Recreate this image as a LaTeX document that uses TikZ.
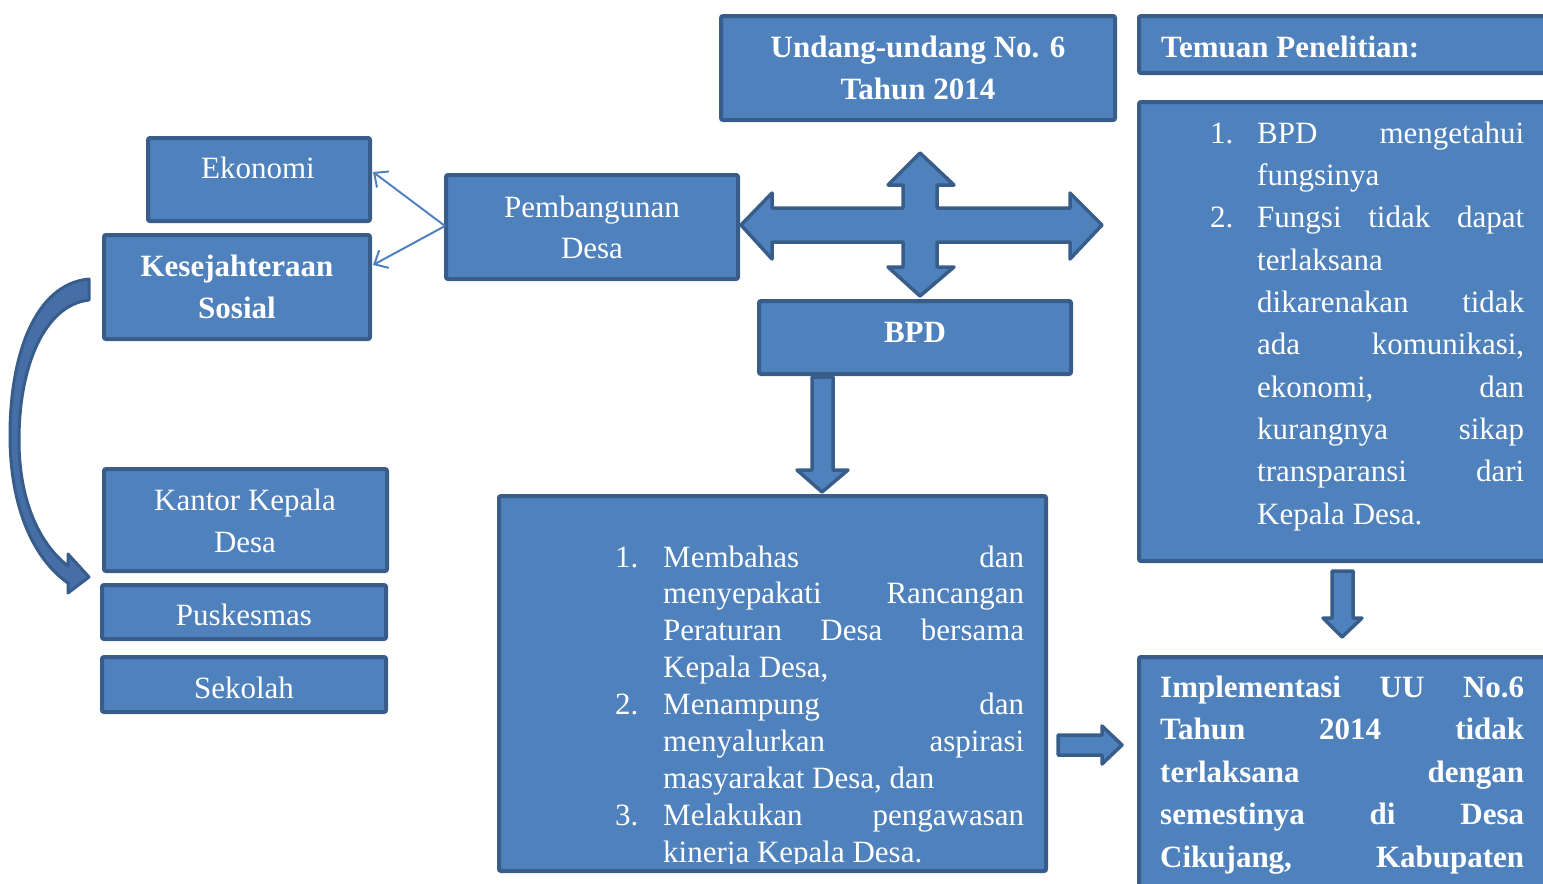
\documentclass[tikz,border=0pt]{standalone}
\usepackage{fontspec}
\setmainfont{Liberation Serif}
\usetikzlibrary{arrows.meta}
\definecolor{bfill}{HTML}{4F81BD}
\definecolor{bdraw}{HTML}{385D8A}
\definecolor{cfill}{HTML}{456FA6}
\newcommand\jline[2]{\hbox to #1bp{#2}}
\begin{document}
\begin{tikzpicture}[x=1bp,y=-1bp,
 box/.style={draw=bdraw, fill=bfill, line width=4bp, rounded corners=2bp, inner sep=0pt, outer sep=0pt, anchor=north west},
 txt/.style={text=white, inner sep=0pt, font=\fontsize{31bp}{37bp}\selectfont},
 btxt/.style={text=white, inner sep=0pt, font=\fontsize{31bp}{37bp}\selectfont\bfseries},
 blockarrow/.style={draw=bdraw, fill=bfill, line width=3.5bp, line join=round},
 thinarrow/.style={draw=bfill, line width=2bp, -{Straight Barb[length=11bp,width=20bp,line width=2bp]}}]
\useasboundingbox (0,0) rectangle (1543,883);
\clip (0,0) rectangle (1543,883);

% boxes
\node[box, minimum width=222bp, minimum height=83bp] (eko) at (148,138) {};
\node[box, minimum width=266bp, minimum height=104bp] (kes) at (104,235) {};
\node[box, minimum width=292bp, minimum height=104bp] (pem) at (446,175) {};
\node[box, minimum width=394bp, minimum height=104bp] (uu) at (721,16) {};
\node[box, minimum width=440bp, minimum height=57bp] (tem) at (1139,16) {};
\node[box, minimum width=440bp, minimum height=459bp] (fnd) at (1139,102) {};
\node[box, minimum width=312bp, minimum height=73bp] (bpd) at (759,301) {};
\node[box, minimum width=283bp, minimum height=102bp] (kan) at (104,469) {};
\node[box, minimum width=284bp, minimum height=54bp] (pus) at (102,585) {};
\node[box, minimum width=284bp, minimum height=55bp] (sek) at (102,657) {};
\node[box, minimum width=547bp, minimum height=375bp] (mid) at (499,496) {};
\node[box, minimum width=440bp, minimum height=260bp] (imp) at (1139,657) {};

% simple texts
\node[txt, anchor=base] (eko-t) at (258,178) {Ekonomi};
\node[btxt, anchor=base] (kes-t1) at (237,276) {Kesejahteraan};
\node[btxt, anchor=base] (kes-t2) at (237,318) {Sosial};
\node[txt, anchor=base] (pem-t1) at (592,217) {Pembangunan};
\node[txt, anchor=base] (pem-t2) at (592,258) {Desa};
\node[btxt, anchor=base] (uu-t1) at (918,57) {Undang-undang No. 6};
\node[btxt, anchor=base] (uu-t2) at (918,99) {Tahun 2014};
\node[btxt, anchor=base west] (tem-t) at (1161,57) {Temuan Penelitian:};
\node[btxt, anchor=base] (bpd-t) at (915,342) {BPD};
\node[txt, anchor=base] (kan-t1) at (245,510) {Kantor Kepala};
\node[txt, anchor=base] (kan-t2) at (245,552) {Desa};
\node[txt, anchor=base] (pus-t) at (244,625) {Puskesmas};
\node[txt, anchor=base] (sek-t) at (244,698) {Sekolah};

% findings list
\node[txt, anchor=base west] (f-n1) at (1210,143) {1.};
\node[txt, anchor=base west] (f-n2) at (1210,227.7) {2.};
\node[txt, anchor=base west] (f-l0) at (1257,143) {\jline{267}{BPD\hfill mengetahui}};
\node[txt, anchor=base west] (f-l1) at (1257,185.3) {fungsinya};
\node[txt, anchor=base west] (f-l2) at (1257,227.7) {\jline{267}{Fungsi\hfill tidak\hfill dapat}};
\node[txt, anchor=base west] (f-l3) at (1257,270) {terlaksana};
\node[txt, anchor=base west] (f-l4) at (1257,312.3) {\jline{267}{dikarenakan\hfill tidak}};
\node[txt, anchor=base west] (f-l5) at (1257,354.7) {\jline{267}{ada\hfill komunikasi,}};
\node[txt, anchor=base west] (f-l6) at (1257,397) {\jline{267}{ekonomi,\hfill dan}};
\node[txt, anchor=base west] (f-l7) at (1257,439.3) {\jline{267}{kurangnya\hfill sikap}};
\node[txt, anchor=base west] (f-l8) at (1257,481.7) {\jline{267}{transparansi\hfill dari}};
\node[txt, anchor=base west] (f-l9) at (1257,524) {Kepala Desa.};

% middle list (clipped at box bottom)
\begin{scope}
\clip (499,496) rectangle (1046,863);
\node[txt, anchor=base west] (m-n1) at (615,567) {1.};
\node[txt, anchor=base west] (m-n2) at (615,714.5) {2.};
\node[txt, anchor=base west] (m-n3) at (615,825.1) {3.};
\node[txt, anchor=base west] (m-l0) at (663,567) {\jline{361}{Membahas\hfill dan}};
\node[txt, anchor=base west] (m-l1) at (663,603.9) {\jline{361}{menyepakati\hfill Rancangan}};
\node[txt, anchor=base west] (m-l2) at (663,640.8) {\jline{361}{Peraturan\hfill Desa\hfill bersama}};
\node[txt, anchor=base west] (m-l3) at (663,677.6) {Kepala Desa,};
\node[txt, anchor=base west] (m-l4) at (663,714.5) {\jline{361}{Menampung\hfill dan}};
\node[txt, anchor=base west] (m-l5) at (663,751.4) {\jline{361}{menyalurkan\hfill aspirasi}};
\node[txt, anchor=base west] (m-l6) at (663,788.3) {masyarakat Desa, dan};
\node[txt, anchor=base west] (m-l7) at (663,825.1) {\jline{361}{Melakukan\hfill pengawasan}};
\node[txt, anchor=base west] (m-l8) at (663,862) {kinerja Kepala Desa.};
\end{scope}

% conclusion text
\node[btxt, anchor=base west] (i-l0) at (1160,697) {\jline{364}{Implementasi\hfill UU\hfill No.6}};
\node[btxt, anchor=base west] (i-l1) at (1160,739.5) {\jline{364}{Tahun\hfill 2014\hfill tidak}};
\node[btxt, anchor=base west] (i-l2) at (1160,782) {\jline{364}{terlaksana\hfill dengan}};
\node[btxt, anchor=base west] (i-l3) at (1160,824.5) {\jline{364}{semestinya\hfill di\hfill Desa}};
\node[btxt, anchor=base west] (i-l4) at (1160,867) {\jline{364}{Cikujang,\hfill Kabupaten}};

% thin arrows
\coordinate (src) at (445,226);
\coordinate (toeko) at (373,172);
\coordinate (tokes) at (373,265);
\draw[thinarrow] (src) -- (toeko);
\draw[thinarrow] (src) -- (tokes);

% four-way block arrow
\draw[blockarrow] (741,225) -- (772,193) -- (772,208) -- (903,208) -- (903,185) -- (888,185)
  -- (920,153) -- (954,185) -- (937,185) -- (937,208) -- (1070,208) -- (1070,193)
  -- (1102,225) -- (1070,259) -- (1070,242) -- (937,242) -- (937,267) -- (954,267)
  -- (920,296) -- (888,267) -- (903,267) -- (903,242) -- (772,242) -- (772,259) -- cycle;

% BPD down arrow
\draw[blockarrow] (812,377) -- (833,377) -- (833,470) -- (848,470) -- (822,492) -- (797,470) -- (812,470) -- cycle;

% findings down arrow
\draw[blockarrow] (1332,571) -- (1353,571) -- (1353,618) -- (1362,618) -- (1342,637) -- (1323,618) -- (1332,618) -- cycle;

% right arrow to conclusion
\draw[blockarrow] (1058,735) -- (1102,735) -- (1102,726) -- (1122,745) -- (1102,764) -- (1102,755) -- (1058,755) -- cycle;

% curved arrow
\draw[draw=bdraw, fill=cfill, line width=3bp, line join=round]
  (89,279) .. controls (35,284) and (10,355) .. (10,435)
  .. controls (10,510) and (35,560) .. (68,583)
  -- (68,593) -- (89,577) -- (68,554) -- (68,566)
  .. controls (42,546) and (19,505) .. (19,440)
  .. controls (19,365) and (45,305) .. (89,300) -- cycle;
\end{tikzpicture}
\end{document}
